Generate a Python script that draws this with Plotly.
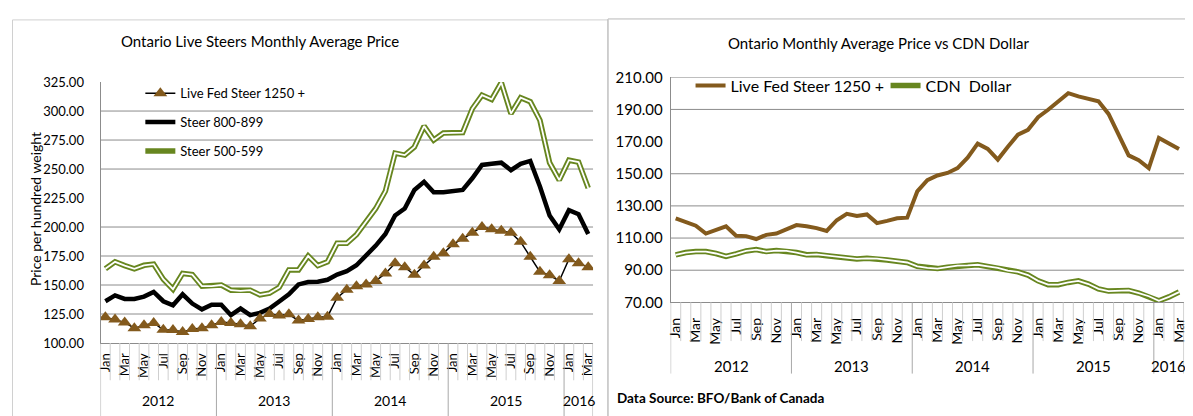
import plotly.graph_objects as go

# page is 1193x416; the page body adds an 8px margin, so the figure is sized to fill the rest
OFF = 8
W, H = 1193 - OFF, 416 - OFF

month_names = ["Jan", "Feb", "Mar", "Apr", "May", "Jun", "Jul", "Aug", "Sep", "Oct", "Nov", "Dec"]
years = [2012, 2013, 2014, 2015, 2016]
n_months = 51  # Jan 2012 .. Mar 2016

live_fed = [122.3, 120.3, 117.7, 112.8, 115.2, 117.3, 111.4, 111.2, 109.4, 112.0, 112.8, 115.2,
            118.1, 117.3, 116.2, 114.4, 121.1, 125.1, 123.7, 124.7, 119.3, 120.7, 122.3, 122.7,
            139.0, 146.0, 148.9, 150.5, 153.5, 160.0, 168.7, 165.4, 158.8, 166.8, 174.3, 177.3,
            185.2, 189.8, 195.1, 200.1, 198.1, 196.7, 195.1, 187.2, 174.3, 161.4, 158.4, 153.5,
            172.3, 168.7, 165.4]
steer_800 = [136.0, 141.0, 138.0, 138.0, 140.0, 144.0, 136.0, 132.5, 142.0, 134.0, 129.0, 133.0,
             133.0, 124.0, 129.7, 124.0, 126.0, 129.7, 135.8, 142.0, 150.5, 152.5, 152.8, 154.5,
             159.0, 162.0, 167.0, 175.0, 184.0, 194.0, 210.0, 216.0, 232.0, 239.0, 230.0, 230.0,
             231.0, 232.0, 242.0, 253.5, 254.5, 255.5, 249.0, 254.5, 257.0, 235.0, 210.0, 198.0,
             214.5, 211.0, 194.0]
steer_500 = [164.0, 170.0, 166.7, 164.0, 167.0, 168.0, 155.0, 146.4, 160.0, 159.0, 149.0, 149.0,
             150.0, 145.5, 145.0, 145.5, 141.5, 143.0, 148.0, 163.0, 163.0, 175.0, 166.7, 170.0,
             186.0, 186.0, 193.5, 205.0, 216.0, 231.0, 263.7, 262.0, 269.0, 287.0, 275.0, 281.0,
             281.4, 281.4, 302.0, 313.7, 310.0, 324.6, 297.8, 311.5, 308.0, 292.0, 255.5, 240.4,
             257.6, 256.0, 233.6]
cdn_dollar = [99.5, 101.0, 101.6, 101.6, 100.4, 98.6, 100.2, 102.0, 102.8, 101.6, 102.2, 102.0,
              101.0, 99.6, 99.8, 99.0, 98.2, 97.6, 97.0, 97.4, 97.2, 96.4, 95.6, 94.8,
              92.4, 91.4, 91.0, 91.8, 92.8, 93.0, 93.4, 92.4, 91.4, 89.8, 89.0, 87.0,
              83.4, 81.0, 81.0, 82.4, 83.4, 81.4, 78.4, 77.0, 77.0, 77.4, 75.8, 73.8,
              71.0, 73.4, 76.4]

left_yticks = [100, 125, 150, 175, 200, 225, 250, 275, 300, 325]
left_grid = [125, 150, 175, 200, 250, 275, 300]
right_yticks = [70, 90, 110, 130, 150, 170, 190, 210]
right_grid = [90, 110, 130, 150, 190, 210]

BROWN = "#835A1D"
GREEN = "#67861F"
GRID = "#8C8C8C"
FONT = "Lato"

idx = list(range(n_months))
month_lbl = [month_names[i % 12] for i in idx]
tick_idx = idx[::2]
tick_txt = [month_lbl[i] for i in tick_idx]


def px(x):
    """page pixel x -> paper fraction"""
    return (x - OFF) / W


def py(y):
    """page pixel y (from top) -> paper fraction"""
    return (H - (y - OFF)) / H


fig = go.Figure()

# ---- left chart ----
fig.add_trace(go.Scatter(x=idx, y=steer_500, mode="lines", name="Steer 500-599",
                         line=dict(color=GREEN, width=5.5), legendgroup="c", legendrank=3,
                         xaxis="x", yaxis="y", legend="legend"))
fig.add_trace(go.Scatter(x=idx, y=steer_500, mode="lines", showlegend=False, hoverinfo="skip",
                         line=dict(color="white", width=1.8), legendgroup="c",
                         xaxis="x", yaxis="y"))
fig.add_trace(go.Scatter(x=idx, y=steer_800, mode="lines", name="Steer 800-899",
                         line=dict(color="black", width=4.5), legendgroup="b", legendrank=2,
                         xaxis="x", yaxis="y", legend="legend"))
fig.add_trace(go.Scatter(x=idx, y=live_fed, mode="lines+markers", name="Live Fed Steer 1250 +",
                         line=dict(color="black", width=1.5),
                         marker=dict(symbol="triangle-up", size=12, color=BROWN),
                         legendgroup="a", legendrank=1,
                         xaxis="x", yaxis="y", legend="legend"))

# ---- right chart ----
fig.add_trace(go.Scatter(x=idx, y=cdn_dollar, mode="lines", name="CDN\u00a0 Dollar",
                         line=dict(color=GREEN, width=5.5), xaxis="x2", yaxis="y2",
                         legend="legend3"))
fig.add_trace(go.Scatter(x=idx, y=cdn_dollar, mode="lines", showlegend=False, hoverinfo="skip",
                         line=dict(color="white", width=1.8), xaxis="x2", yaxis="y2"))
fig.add_trace(go.Scatter(x=idx, y=live_fed, mode="lines", name="Live Fed Steer 1250 +",
                         line=dict(color=BROWN, width=4), xaxis="x2", yaxis="y2",
                         legend="legend2"))

shapes = []
annotations = []

# panel borders
shapes.append(dict(type="rect", xref="paper", yref="paper", x0=px(8.5), x1=px(607), y0=py(440), y1=py(10),
                   line=dict(color="#D0D0D0", width=1), layer="below"))
shapes.append(dict(type="rect", xref="paper", yref="paper", x0=px(607), x1=px(1210), y0=py(440), y1=py(9),
                   line=dict(color="#B8B8B8", width=1), layer="below"))

# gridlines
for v in left_grid:
    shapes.append(dict(type="line", xref="x domain", yref="y", x0=0, x1=1, y0=v, y1=v,
                       line=dict(color=GRID, width=1), layer="below"))
for v in right_grid:
    shapes.append(dict(type="line", xref="x2 domain", yref="y2", x0=0, x1=1, y0=v, y1=v,
                       line=dict(color=GRID, width=1), layer="below"))

# category separators
year_starts = [0, 12, 24, 36, 48, 51]
for b in range(n_months + 1):
    is_year = b in year_starts
    shapes.append(dict(type="line", xref="x", yref="paper", x0=b - 0.5, x1=b - 0.5,
                       y0=py(348), y1=py(430 if is_year else 387),
                       line=dict(color="#A8A8A8" if is_year else "#CFCFCF", width=1)))
    shapes.append(dict(type="line", xref="x2", yref="paper", x0=b - 0.5, x1=b - 0.5,
                       y0=py(305.5), y1=py(380 if is_year else 346),
                       line=dict(color="#A8A8A8" if is_year else "#CFCFCF", width=1)))

# year labels
for k, yr in enumerate(years):
    s = year_starts[k]
    e = year_starts[k + 1] - 1
    c = (s + e) / 2
    annotations.append(dict(x=c, y=py(408), xref="x", yref="paper", text=str(yr), showarrow=False,
                            xanchor="center", yanchor="middle",
                            font=dict(family=FONT, size=14, color="black")))
    annotations.append(dict(x=c, y=py(372), xref="x2", yref="paper", text=str(yr), showarrow=False,
                            xanchor="center", yanchor="middle",
                            font=dict(family=FONT, size=15, color="black")))

# titles
annotations.append(dict(x=px(257), y=py(32), xref="paper", yref="paper",
                        text="Ontario Live Steers Monthly Average Price", showarrow=False,
                        xanchor="center", yanchor="middle",
                        font=dict(family=FONT, size=15, color="black")))
annotations.append(dict(x=px(879), y=py(34), xref="paper", yref="paper",
                        text="Ontario Monthly Average Price vs CDN Dollar", showarrow=False,
                        xanchor="center", yanchor="middle",
                        font=dict(family=FONT, size=15, color="black")))
# y axis title
annotations.append(dict(x=px(31), y=py(208), xref="paper", yref="paper",
                        text="Price per hundred weight", textangle=-90, showarrow=False,
                        xanchor="center", yanchor="middle",
                        font=dict(family=FONT, size=14, color="black")))
# source
annotations.append(dict(x=px(614), y=0, xref="paper", yref="paper", xanchor="left", yanchor="bottom",
                        text="<b>Data Source: BFO/Bank of Canada</b>", showarrow=False,
                        font=dict(family=FONT, size=13.5, color="black")))

axis_common = dict(showline=True, linecolor=GRID, linewidth=1, zeroline=False, showgrid=False)

fig.update_layout(
    width=W, height=H,
    margin=dict(l=0, r=0, t=0, b=0),
    paper_bgcolor="white", plot_bgcolor="white",
    font=dict(family=FONT, color="black"),
    showlegend=True,
    xaxis=dict(domain=[px(97), px(592)], range=[-0.5, n_months - 0.5], anchor="y",
               tickmode="array", tickvals=tick_idx, ticktext=tick_txt, tickangle=-90,
               ticks="", ticklabelstandoff=4, tickfont=dict(family=FONT, size=13), **axis_common),
    yaxis=dict(domain=[py(348), py(75)], range=[100, 325], anchor="x",
               tickmode="array", tickvals=left_yticks, tickformat=".2f", ticks="",
               ticklabelstandoff=13, tickfont=dict(family=FONT, size=13), **axis_common),
    xaxis2=dict(domain=[px(670), px(1186)], range=[-0.5, n_months - 0.5], anchor="y2",
                tickmode="array", tickvals=tick_idx, ticktext=tick_txt, tickangle=-90,
                ticks="", ticklabelstandoff=9, tickfont=dict(family=FONT, size=14), **axis_common),
    yaxis2=dict(domain=[py(305.5), py(70)], range=[70, 210], anchor="x2",
                tickmode="array", tickvals=right_yticks, tickformat=".2f", ticks="",
                ticklabelstandoff=4, tickfont=dict(family=FONT, size=15), **axis_common),
    legend=dict(x=px(137), y=py(71), xanchor="left", yanchor="top", bgcolor="rgba(0,0,0,0)",
                traceorder="grouped", tracegroupgap=9, font=dict(family=FONT, size=13)),
    legend2=dict(x=px(690), y=py(61), xanchor="left", yanchor="top", bgcolor="rgba(0,0,0,0)",
                 font=dict(family=FONT, size=16)),
    legend3=dict(x=px(886), y=py(61), xanchor="left", yanchor="top", bgcolor="rgba(0,0,0,0)",
                 font=dict(family=FONT, size=16)),
    shapes=shapes,
    annotations=annotations,
)

fig.write_html("out.html")
